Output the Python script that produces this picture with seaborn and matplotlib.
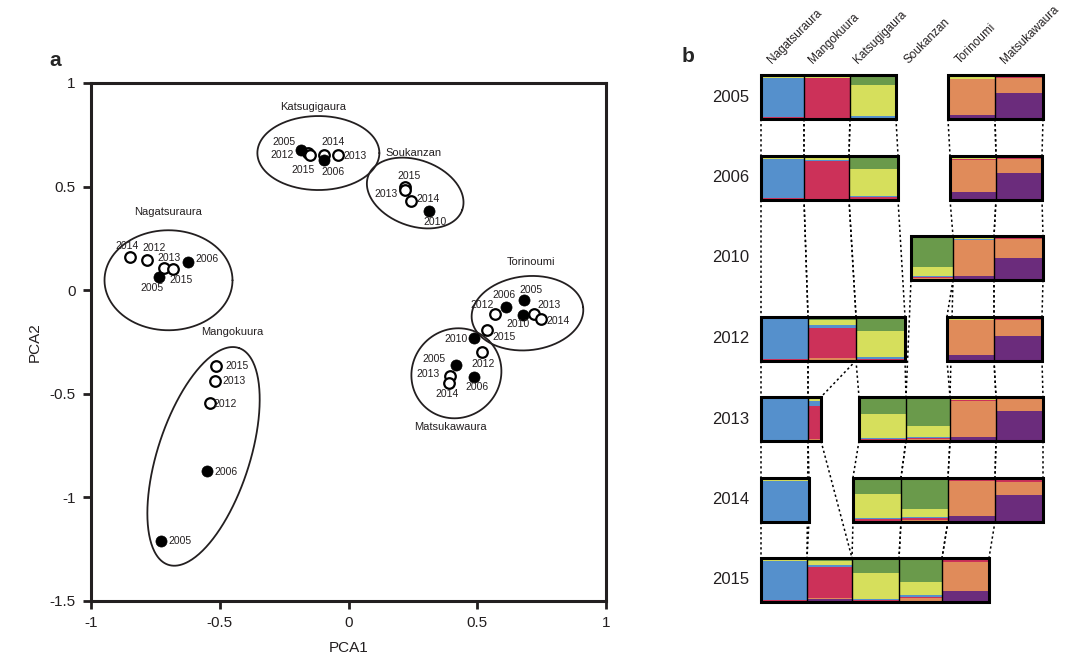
import numpy as np
import pandas as pd
import matplotlib
matplotlib.use("Agg")
import matplotlib.pyplot as plt
from matplotlib.patches import Rectangle
import seaborn as sns

# ---------------- panel a : PCA of site x year samples ----------------
site_a = (["Nagatsuraura"] * 6 + ["Katsugigaura"] * 6 + ["Soukanzan"] * 4
          + ["Torinoumi"] * 7 + ["Matsukawaura"] * 6 + ["Mangokuura"] * 5)
year_a = [2014, 2012, 2013, 2015, 2006, 2005,
          2005, 2012, 2015, 2014, 2006, 2013,
          2015, 2013, 2014, 2010,
          2005, 2006, 2012, 2010, 2013, 2014, 2015,
          2010, 2012, 2005, 2013, 2014, 2006,
          2015, 2013, 2012, 2006, 2005]
pca1 = [-0.848, -0.782, -0.717, -0.682, -0.623, -0.734,
        -0.184, -0.157, -0.151, -0.096, -0.096, -0.041,
        0.219, 0.219, 0.243, 0.313,
        0.681, 0.610, 0.567, 0.676, 0.721, 0.747, 0.539,
        0.489, 0.517, 0.416, 0.393, 0.390, 0.489,
        -0.513, -0.520, -0.536, -0.551, -0.727]
pca2 = [0.161, 0.148, 0.107, 0.100, 0.134, 0.064,
        0.676, 0.660, 0.654, 0.652, 0.628, 0.652,
        0.499, 0.483, 0.431, 0.383,
        -0.045, -0.081, -0.117, -0.121, -0.117, -0.140, -0.193,
        -0.229, -0.298, -0.362, -0.415, -0.448, -0.419,
        -0.366, -0.440, -0.543, -0.873, -1.211]

# ---------------- panel b : admixture proportions per block ----------------
# cluster order (bottom -> top): purple, orange, red, blue, yellow, green
cluster_colors = ["#6b2c7c", "#e08b5a", "#cc3159", "#5590cc", "#d6df5c", "#6a9a4b"]
years_b = [2005, 2006, 2010, 2012, 2013, 2014, 2015]
sites_b = ["Nagatsuraura", "Mangokuura", "Katsugigaura", "Soukanzan", "Torinoumi", "Matsukawaura"]

q_2005 = {"Nagatsuraura": [0.00, 0.02, 0.02, 0.89, 0.04, 0.03],
          "Mangokuura":   [0.01, 0.00, 0.92, 0.01, 0.04, 0.02],
          "Katsugigaura": [0.01, 0.00, 0.02, 0.03, 0.72, 0.22],
          "Torinoumi":    [0.10, 0.80, 0.02, 0.00, 0.03, 0.05],
          "Matsukawaura": [0.60, 0.33, 0.03, 0.00, 0.02, 0.02]}
q_2006 = {"Nagatsuraura": [0.00, 0.02, 0.01, 0.90, 0.05, 0.02],
          "Mangokuura":   [0.02, 0.00, 0.85, 0.03, 0.06, 0.04],
          "Katsugigaura": [0.00, 0.02, 0.03, 0.03, 0.62, 0.30],
          "Torinoumi":    [0.18, 0.72, 0.02, 0.00, 0.03, 0.05],
          "Matsukawaura": [0.60, 0.32, 0.03, 0.00, 0.02, 0.03]}
q_2010 = {"Soukanzan":    [0.02, 0.02, 0.02, 0.02, 0.22, 0.70],
          "Torinoumi":    [0.10, 0.82, 0.00, 0.02, 0.03, 0.03],
          "Matsukawaura": [0.50, 0.43, 0.03, 0.00, 0.02, 0.02]}
q_2012 = {"Nagatsuraura": [0.00, 0.02, 0.01, 0.93, 0.03, 0.01],
          "Mangokuura":   [0.02, 0.03, 0.70, 0.05, 0.12, 0.08],
          "Katsugigaura": [0.00, 0.02, 0.02, 0.03, 0.60, 0.33],
          "Torinoumi":    [0.12, 0.80, 0.01, 0.00, 0.03, 0.04],
          "Matsukawaura": [0.55, 0.38, 0.03, 0.00, 0.02, 0.02]}
q_2013 = {"Nagatsuraura": [0.00, 0.01, 0.01, 0.93, 0.03, 0.02],
          "Mangokuura":   [0.00, 0.05, 0.75, 0.12, 0.08, 0.00],
          "Katsugigaura": [0.00, 0.02, 0.02, 0.03, 0.55, 0.38],
          "Soukanzan":    [0.00, 0.04, 0.03, 0.03, 0.25, 0.65],
          "Torinoumi":    [0.10, 0.82, 0.02, 0.00, 0.03, 0.03],
          "Matsukawaura": [0.68, 0.27, 0.03, 0.00, 0.00, 0.02]}
q_2014 = {"Nagatsuraura": [0.00, 0.01, 0.01, 0.90, 0.06, 0.02],
          "Katsugigaura": [0.00, 0.02, 0.03, 0.03, 0.55, 0.37],
          "Soukanzan":    [0.00, 0.04, 0.03, 0.03, 0.18, 0.72],
          "Torinoumi":    [0.12, 0.80, 0.02, 0.00, 0.03, 0.03],
          "Matsukawaura": [0.60, 0.30, 0.05, 0.00, 0.02, 0.03]}
q_2015 = {"Nagatsuraura": [0.00, 0.03, 0.02, 0.88, 0.04, 0.03],
          "Mangokuura":   [0.06, 0.04, 0.70, 0.04, 0.10, 0.06],
          "Katsugigaura": [0.00, 0.02, 0.02, 0.03, 0.60, 0.33],
          "Soukanzan":    [0.00, 0.08, 0.04, 0.03, 0.30, 0.55],
          "Torinoumi":    [0.25, 0.65, 0.05, 0.00, 0.02, 0.03]}
# block widths (individuals), in the order of the sites listed above
n_2005 = [43, 46, 46, 47, 48]
n_2006 = [43, 45, 49, 46, 46]
n_2010 = [42, 41, 49]
n_2012 = [47, 48, 49, 47, 48]
n_2013 = [47, 13, 47, 44, 46, 47]
n_2014 = [48, 48, 47, 47, 48]
n_2015 = [46, 45, 47, 43, 47]
q_by_year = {2005: q_2005, 2006: q_2006, 2010: q_2010, 2012: q_2012,
             2013: q_2013, 2014: q_2014, 2015: q_2015}
n_by_year = {2005: n_2005, 2006: n_2006, 2010: n_2010, 2012: n_2012,
             2013: n_2013, 2014: n_2014, 2015: n_2015}

# ---------------- styling ----------------
sns.set_theme(style="white")
plt.rcParams["font.family"] = ["Liberation Sans", "DejaVu Sans"]
INK = "#231f20"

fig = plt.figure(figsize=(10.77, 6.61), dpi=100)
ax = fig.add_axes([91 / 1077, 1 - 601 / 661, 515 / 1077, 518 / 661])

df = pd.DataFrame({"site": site_a, "year": year_a, "PCA1": pca1, "PCA2": pca2})
df["filled"] = df["year"] <= 2010

# ellipses (centre in data units, semi axes in pixels, angle in degrees)
ellipses = {
    "Nagatsuraura": ((-0.699, 0.048), 64, 50, 0),
    "Katsugigaura": ((-0.117, 0.662), 61, 37, 0),
    "Soukanzan": ((0.259, 0.469), 50, 33, -20),
    "Torinoumi": ((0.695, -0.111), 56, 37, 6),
    "Matsukawaura": ((0.419, -0.401), 46, 44, 45),
    "Mangokuura": ((-0.563, -0.802), 114, 46, 72),
}
site_labels = {
    "Nagatsuraura": (-0.699, 0.377), "Katsugigaura": (-0.136, 0.884),
    "Soukanzan": (0.252, 0.662), "Torinoumi": (0.707, 0.137),
    "Matsukawaura": (0.396, -0.660), "Mangokuura": (-0.452, -0.201),
}
px_x, px_y = 515 / 2.0, 518 / 2.5
t = np.linspace(0, 2 * np.pi, 300)
for site, ((cx, cy), a, b, ang) in ellipses.items():
    th = np.deg2rad(ang)
    u = a * np.cos(t) * np.cos(th) - b * np.sin(t) * np.sin(th)
    v = a * np.cos(t) * np.sin(th) + b * np.sin(t) * np.cos(th)
    ax.plot(cx + u / px_x, cy + v / px_y, color=INK, lw=1.3, zorder=1)
    lx, ly = site_labels[site]
    ax.text(lx, ly, site, ha="center", va="center", fontsize=8, color=INK)

sns.scatterplot(data=df[~df["filled"]], x="PCA1", y="PCA2", ax=ax, s=58,
                facecolor="white", edgecolor="black", linewidth=1.6, zorder=3)
sns.scatterplot(data=df[df["filled"]], x="PCA1", y="PCA2", ax=ax, s=64,
                color="black", edgecolor="black", linewidth=0.5, zorder=4)

# year label offsets in pixels (dx right, dy down)
lab_off = {
    ("Nagatsuraura", 2014): (-3, -11), ("Nagatsuraura", 2012): (7, -12),
    ("Nagatsuraura", 2013): (5, -10), ("Nagatsuraura", 2015): (8, 11),
    ("Nagatsuraura", 2006): (19, -3), ("Nagatsuraura", 2005): (-7, 11),
    ("Katsugigaura", 2005): (-17, -8), ("Katsugigaura", 2012): (-26, 2),
    ("Katsugigaura", 2015): (-7, 15), ("Katsugigaura", 2014): (9, -13),
    ("Katsugigaura", 2006): (9, 12), ("Katsugigaura", 2013): (17, 1),
    ("Soukanzan", 2015): (4, -11), ("Soukanzan", 2013): (-19, 4),
    ("Soukanzan", 2014): (17, -2), ("Soukanzan", 2010): (6, 11),
    ("Torinoumi", 2005): (7, -10), ("Torinoumi", 2006): (-2, -12),
    ("Torinoumi", 2012): (-12, -9), ("Torinoumi", 2013): (15, -9),
    ("Torinoumi", 2014): (17, 2), ("Torinoumi", 2010): (-5, 9),
    ("Torinoumi", 2015): (17, 7),
    ("Matsukawaura", 2010): (-18, 1), ("Matsukawaura", 2012): (1, 12),
    ("Matsukawaura", 2005): (-22, -6), ("Matsukawaura", 2013): (-22, -2),
    ("Matsukawaura", 2014): (-2, 11), ("Matsukawaura", 2006): (3, 10),
    ("Mangokuura", 2015): (21, 0), ("Mangokuura", 2013): (19, 0),
    ("Mangokuura", 2012): (15, 1), ("Mangokuura", 2006): (19, 1),
    ("Mangokuura", 2005): (19, 0),
}
for _, r in df.iterrows():
    dx, dy = lab_off[(r["site"], r["year"])]
    ax.annotate(str(r["year"]), (r["PCA1"], r["PCA2"]), xytext=(dx, -dy),
                textcoords="offset pixels", ha="center", va="center",
                fontsize=7.5, color=INK, zorder=5)

ax.set_xlim(-1, 1)
ax.set_ylim(-1.5, 1)
ax.set_xticks([-1, -0.5, 0, 0.5, 1])
ax.set_xticklabels(["-1", "-0.5", "0", "0.5", "1"])
ax.set_yticks([-1.5, -1, -0.5, 0, 0.5, 1])
ax.set_yticklabels(["-1.5", "-1", "-0.5", "0", "0.5", "1"])
ax.tick_params(axis="both", direction="out", length=6, width=2, colors=INK,
               labelsize=11, bottom=True, left=True, pad=5)
for sp in ax.spines.values():
    sp.set_linewidth(2.2)
    sp.set_color(INK)
ax.set_xlabel("PCA1", fontsize=11, color=INK, labelpad=8)
ax.set_ylabel("PCA2", fontsize=11, color=INK, labelpad=6)
fig.text(55 / 1077, 1 - 60 / 661, "a", fontsize=15, fontweight="bold", ha="center", va="center")

# ---------------- panel b ----------------
axb = fig.add_axes([690 / 1077, 0, 387 / 1077, 1])
axb.set_xlim(690, 1077)
axb.set_ylim(661, 0)
axb.axis("off")
fig.text(688 / 1077, 1 - 57 / 661, "b", fontsize=15, fontweight="bold", ha="center", va="center")

row_top0, row_step, row_h = 75, 80.5, 44
row_x0 = {2010: 911}
gap_before = {(2005, "Torinoumi"): 52, (2006, "Torinoumi"): 52, (2012, "Torinoumi"): 42,
              (2013, "Katsugigaura"): 38, (2014, "Katsugigaura"): 44}

edges = {}  # (year, site) -> (left, right)
for i, yr in enumerate(years_b):
    top = row_top0 + i * row_step
    bot = top + row_h
    x = row_x0.get(yr, 761)
    groups, cur = [], None
    for site, n in zip(q_by_year[yr].keys(), n_by_year[yr]):
        g = gap_before.get((yr, site), 0)
        if g:
            x += g
            cur = None
        y = bot
        for frac, col in zip(q_by_year[yr][site], cluster_colors):
            if frac > 0:
                axb.bar(x, -frac * row_h, width=n, bottom=y, align="edge",
                        color=col, linewidth=0, zorder=2)
            y -= frac * row_h
        edges[(yr, site)] = (x, x + n)
        axb.plot([x, x], [top, bot], color="black", lw=1, zorder=3)
        if cur is None:
            cur = [x, x + n]
            groups.append(cur)
        else:
            cur[1] = x + n
        x += n
    for gx0, gx1 in groups:
        axb.add_patch(Rectangle((gx0, top), gx1 - gx0, row_h, fill=False,
                                edgecolor="black", lw=2.2, zorder=4))
    axb.text(731, top + row_h / 2, str(yr), ha="center", va="center", fontsize=12, color=INK)

# dotted connectors between successive appearances of each site edge
for site in sites_b:
    present = [(i, yr) for i, yr in enumerate(years_b) if (yr, site) in edges]
    for (i0, y0), (i1, y1) in zip(present[:-1], present[1:]):
        for k in range(2):
            xa, xb = edges[(y0, site)][k], edges[(y1, site)][k]
            axb.plot([xa, xb], [row_top0 + i0 * row_step + row_h, row_top0 + i1 * row_step],
                     color="black", lw=1.1, ls=(0, (1.5, 1.8)), zorder=1)

label_x = [774, 815, 860, 911, 962, 1007]
for site, lx in zip(sites_b, label_x):
    axb.text(lx, 66, site, rotation=45, rotation_mode="anchor", ha="left", va="bottom",
             fontsize=8.5, color=INK)

fig.savefig("out.png", dpi=100)
